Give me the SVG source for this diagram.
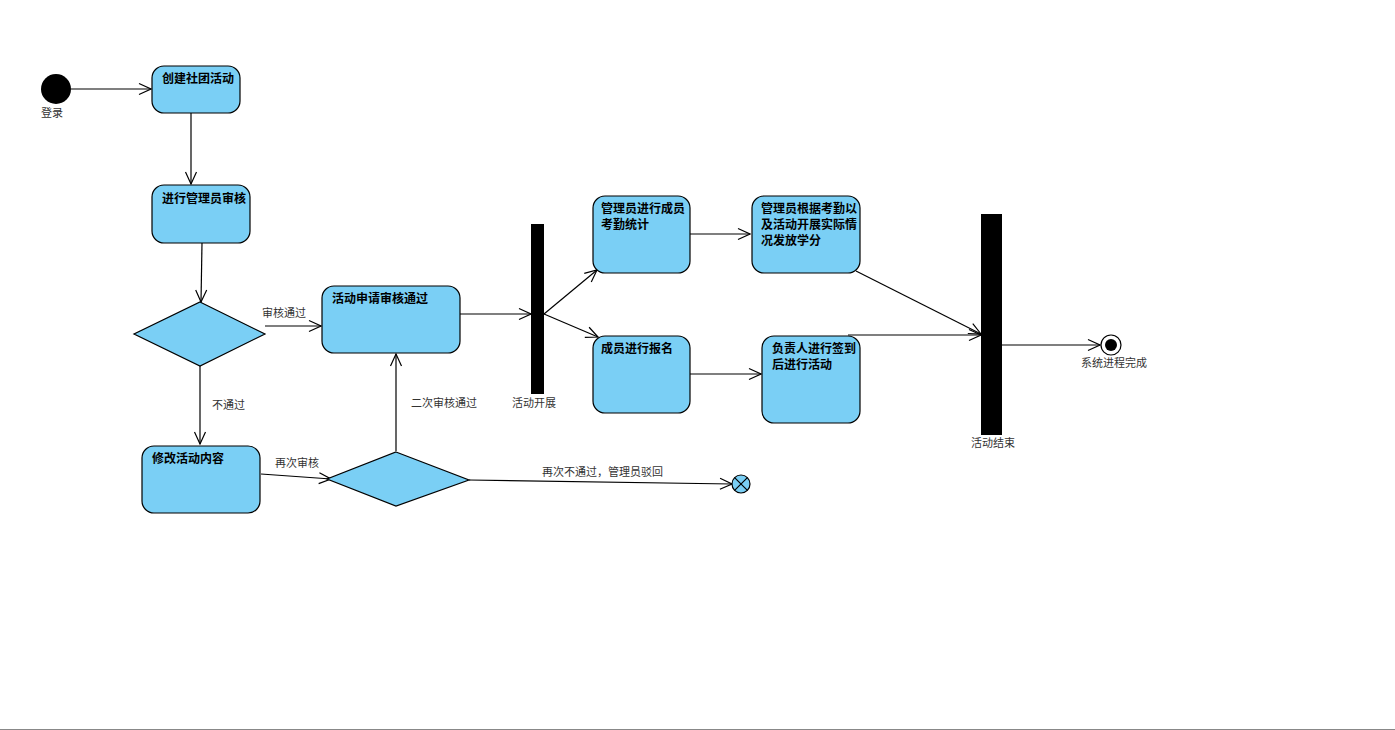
<svg xmlns="http://www.w3.org/2000/svg" width="1395" height="730" viewBox="0 0 1395 730">
<style>
.node{fill:#7acff5;stroke:#000;stroke-width:1.2}
.nt{font-family:"Noto Sans CJK SC","Liberation Sans",sans-serif;font-size:12px;font-weight:bold;fill:#000}
.lb{font-family:"Noto Sans CJK SC","Liberation Sans",sans-serif;font-size:11px;fill:#333}
.c{fill:none;stroke:#000;stroke-width:1.2;marker-end:url(#arr)}
.bar{fill:#000}
</style>
<defs>
<marker id="arr" markerUnits="userSpaceOnUse" markerWidth="14" markerHeight="14" refX="13" refY="7" orient="auto">
<path d="M1,1.5 L13,7 L1,12.5" fill="none" stroke="#000" stroke-width="1.2"/>
</marker>
</defs>
<rect width="1395" height="730" fill="#fff"/>
<line x1="0" y1="729.5" x2="1395" y2="729.5" stroke="#888" stroke-width="1"/>

<g id="connectors">
<path class="c" d="M71,89 L151,89"/>
<path class="c" d="M191,113 L191,184"/>
<path class="c" d="M202,243 L201,302"/>
<path class="c" d="M265,326 L321,326"/>
<text class="lb" x="262" y="317">审核通过</text>
<path class="c" d="M200,366 L200,444"/>
<text class="lb" x="212" y="409">不通过</text>
<path class="c" d="M261,474 L331,479"/>
<text class="lb" x="275" y="467">再次审核</text>
<path class="c" d="M396,451 L396,354"/>
<text class="lb" x="411" y="407">二次审核通过</text>
<path class="c" d="M469,480 L732,484"/>
<text class="lb" x="542" y="476">再次不通过，管理员驳回</text>
<path class="c" d="M460,314 L531,314"/>
<path class="c" d="M544,314 L597,270"/>
<path class="c" d="M544,314 L598,337"/>
<path class="c" d="M690,234 L750,234"/>
<path class="c" d="M690,374 L761,374"/>
<path class="c" d="M856,271 L981,334"/>
<path class="c" d="M848,335 L981,335"/>
<path class="c" d="M1002,345 L1100,345"/>
</g>

<g id="start">
<circle cx="56" cy="89" r="15" fill="#000"/>
<text class="lb" x="41" y="117">登录</text>
</g>
<g id="n1">
<rect class="node" x="152" y="66" width="88" height="47" rx="12"/>
<text class="nt" x="162" y="83">创建社团活动</text>
</g>
<g id="n2">
<rect class="node" x="152" y="185" width="98" height="58" rx="12"/>
<text class="nt" x="162" y="203">进行管理员审核</text>
</g>
<g id="d1">
<polygon class="node" points="200,302 265,334 200,366 134,334"/>
</g>
<g id="n3">
<rect class="node" x="322" y="286" width="138" height="67" rx="12"/>
<text class="nt" x="332" y="303">活动申请审核通过</text>
</g>
<g id="n4">
<rect class="node" x="142" y="446" width="118" height="67" rx="12"/>
<text class="nt" x="152" y="463">修改活动内容</text>
</g>
<g id="d2">
<polygon class="node" points="396,452 469,480 396,506 327,479"/>
</g>
<g id="flowfinal">
<circle cx="741" cy="484" r="9" fill="#7acff5" stroke="#000" stroke-width="1.2"/>
<path d="M734.6,477.6 L747.4,490.4 M747.4,477.6 L734.6,490.4" stroke="#000" stroke-width="1.2"/>
</g>
<g id="fork">
<rect class="bar" x="531" y="224" width="13" height="170"/>
<text class="lb" x="512" y="407">活动开展</text>
</g>
<g id="n5">
<rect class="node" x="593" y="196" width="97" height="77" rx="12"/>
<text class="nt" x="601" y="213">管理员进行成员</text>
<text class="nt" x="601" y="229">考勤统计</text>
</g>
<g id="n6">
<rect class="node" x="593" y="336" width="97" height="77" rx="12"/>
<text class="nt" x="601" y="353">成员进行报名</text>
</g>
<g id="n7">
<rect class="node" x="752" y="196" width="108" height="77" rx="12"/>
<text class="nt" x="761" y="213">管理员根据考勤以</text>
<text class="nt" x="761" y="229">及活动开展实际情</text>
<text class="nt" x="761" y="245">况发放学分</text>
</g>
<g id="n8">
<rect class="node" x="762" y="336" width="98" height="87" rx="12"/>
<text class="nt" x="772" y="353">负责人进行签到</text>
<text class="nt" x="772" y="369">后进行活动</text>
</g>
<g id="join">
<rect class="bar" x="981" y="214" width="21" height="221"/>
<text class="lb" x="971" y="447">活动结束</text>
</g>
<g id="end">
<circle cx="1111" cy="345" r="10" fill="#fff" stroke="#000" stroke-width="1.2"/>
<circle cx="1111" cy="345" r="6" fill="#000"/>
<text class="lb" x="1081" y="367">系统进程完成</text>
</g>
</svg>
